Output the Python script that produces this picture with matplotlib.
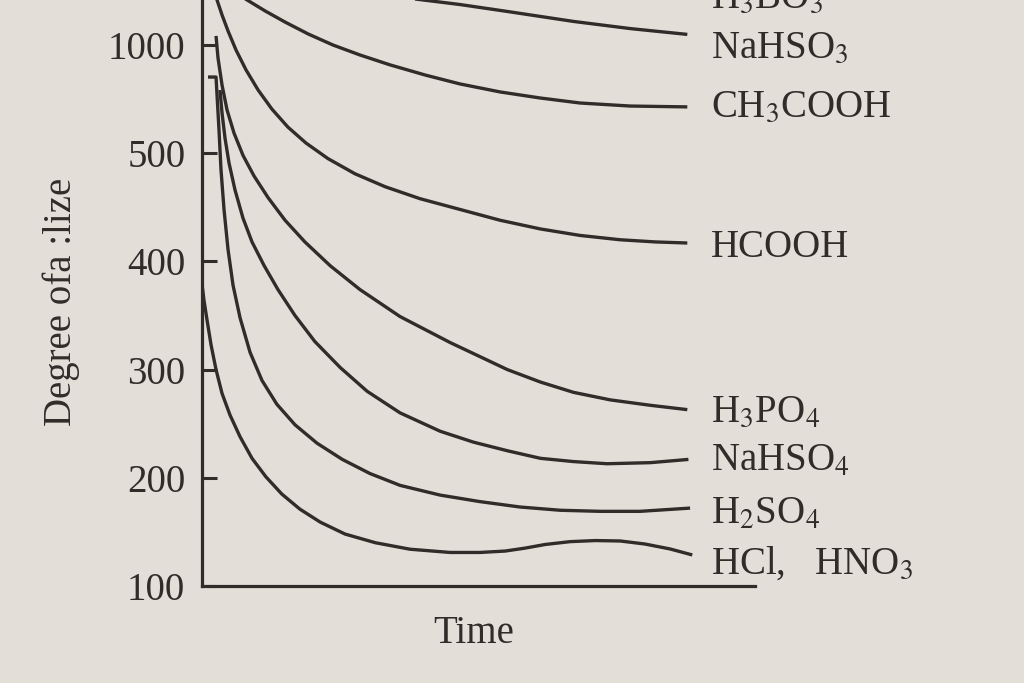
import numpy as np
import matplotlib
matplotlib.use('Agg')
import matplotlib.pyplot as plt

plt.rcParams['font.family'] = ['Liberation Serif', 'DejaVu Serif']
plt.rcParams['mathtext.fontset'] = 'stix'

# y ticks of the original figure (not evenly valued, evenly spaced)
ytick_values = [100, 200, 300, 400, 500, 1000]
ytick_labels = ['100', '200', '300', '400', '500', '1000']

# curves: time (arbitrary units) and degree
nahso3_t = [34.2, 39.6, 46.9, 55.5, 61.5, 67.5, 77.8, 88.2]
nahso3_v = [1226, 1210, 1187, 1155, 1132, 1109, 1076, 1049]

ch3cooh_t = [6.9, 8.2, 11.5, 15.1, 19.3, 23.8, 28.7, 34.2, 40.6, 46.9, 54.2, 61.5, 68.7, 77.8, 88.2]
ch3cooh_v = [1226, 1208, 1157, 1106, 1051, 1000, 954, 908, 861, 820, 783, 755, 732, 718, 714]

hcooh_t = [2.55, 2.73, 3.64, 4.73, 6.18, 8.0, 10.2, 12.7, 15.6, 18.9, 22.9, 27.8, 33.3,
           39.6, 46.9, 54.2, 61.5, 68.7, 76.0, 82.4, 88.2]
hcooh_v = [1222, 1208, 1139, 1065, 977, 885, 792, 704, 621, 547, 495, 481, 469,
           458, 448, 438, 430, 424, 420, 418, 417]

h3po4_t = [2.55, 2.91, 3.64, 4.55, 5.82, 7.45, 9.45, 12.0, 15.1, 18.7, 23.3, 28.7,
           36.0, 45.1, 55.5, 61.5, 67.5, 74.2, 81.5, 88.2]
h3po4_v = [1042, 940, 815, 700, 593, 498, 479, 459, 438, 418, 396, 374,
           349, 325, 300, 288.5, 279, 272, 267, 263]

nahso4_t = [3.27, 3.64, 4.18, 4.91, 6.0, 7.45, 9.09, 11.3, 13.8, 16.9, 20.5, 25.1,
            30.0, 36.0, 43.3, 49.3, 55.5, 61.5, 67.5, 73.6, 81.5, 88.4]
nahso4_v = [792, 686, 570, 491, 466, 440, 418, 396, 374, 350, 326, 302,
            280, 260, 243, 233, 225, 218, 215, 213, 214, 217]

h2so4_t = [1.09, 2.55, 2.73, 3.09, 3.45, 4.0, 4.73, 5.64, 6.91, 8.73, 10.9, 13.6,
           16.9, 20.9, 25.5, 30.5, 36.0, 43.3, 50.5, 57.8, 65.1, 72.4, 79.6, 88.7]
h2so4_v = [852, 852, 769, 607, 485, 448, 411, 378, 348, 316, 290, 268,
           249, 232, 217, 204, 193, 184, 178, 173, 170, 169, 169, 172]

hcl_t = [0.0, 0.36, 0.91, 1.64, 2.55, 3.64, 5.09, 6.91, 9.09, 11.6, 14.5, 17.8, 21.5,
         26.0, 31.5, 37.8, 45.1, 50.5, 55.1, 58.7, 62.4, 66.9, 71.5, 76.0, 80.5, 85.1, 89.1]
hcl_v = [379, 364, 346, 323, 300, 278, 258, 238, 218, 201, 185, 171, 159,
         148, 140, 134, 131, 131, 132.3, 135, 138.4, 141, 142, 141.6, 138.8, 134.2, 128.7]

names = [r'H$_3$BO$_3$', r'NaHSO$_3$', r'CH$_3$COOH', 'HCOOH',
         r'H$_3$PO$_4$', r'NaHSO$_4$', r'H$_2$SO$_4$', r'HCl,   HNO$_3$']
name_v = [1171, 940, 667, 404, 252, 206, 157, 111]


def forward(v):
    v = np.asarray(v, dtype=float)
    return np.where(v <= 500, (v - 100) / 100.0, 4 + (v - 500) / 500.0)


def inverse(p):
    p = np.asarray(p, dtype=float)
    return np.where(p <= 4, 100 + 100.0 * p, 500 + 500.0 * (p - 4))


paper = '#e3dfd8'
ink = '#2f2c2a'

fig = plt.figure(figsize=(10.24, 6.83), dpi=100, facecolor=paper)
ax = fig.add_axes([202 / 1024, 97 / 683, 553 / 1024, 586 / 683])
ax.set_facecolor(paper)
ax.set_yscale('function', functions=(forward, inverse))
ax.set_xlim(0, 100.5)
ax.set_ylim(100, 1208)

curves = [(nahso3_t, nahso3_v), (ch3cooh_t, ch3cooh_v), (hcooh_t, hcooh_v),
          (h3po4_t, h3po4_v), (nahso4_t, nahso4_v), (h2so4_t, h2so4_v),
          (hcl_t, hcl_v)]
for t, v in curves:
    ax.plot(t, v, color=ink, lw=2.4, solid_joinstyle='round', solid_capstyle='butt')

for name, v in zip(names, name_v):
    ax.text(92.5, v, name, fontsize=28, color=ink, va='baseline', ha='left', clip_on=False)

ax.spines['top'].set_visible(False)
ax.spines['right'].set_visible(False)
for s in ['left', 'bottom']:
    ax.spines[s].set_linewidth(2.3)
    ax.spines[s].set_color(ink)

ax.set_xticks([])
ax.set_yticks(ytick_values)
ax.set_yticklabels(ytick_labels)
ax.yaxis.set_minor_locator(matplotlib.ticker.NullLocator())
ax.tick_params(axis='y', direction='in', length=11, width=2.2, pad=12,
               labelsize=28, colors=ink)

ax.set_xlabel('Time', fontsize=28, color=ink)
ax.xaxis.set_label_coords(0.492, -0.05)
ax.set_ylabel('Degree ofa :lize', fontsize=28, color=ink)
ax.yaxis.set_label_coords(-0.22, 0.485)

fig.savefig('out.png', dpi=100, facecolor=paper)
